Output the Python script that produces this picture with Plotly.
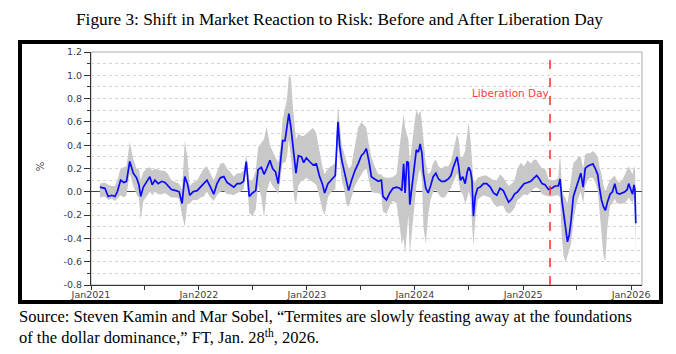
import plotly.graph_objects as go

dates = [
"2021-01-31","2021-02-17","2021-02-28","2021-03-12","2021-03-23","2021-03-31","2021-04-11","2021-04-22",
"2021-05-01","2021-05-12","2021-05-24","2021-06-04","2021-06-12","2021-06-18","2021-06-27","2021-07-08",
"2021-07-19","2021-07-27","2021-08-05","2021-08-16","2021-08-28","2021-09-08","2021-09-19","2021-09-30",
"2021-10-15","2021-10-26","2021-11-05","2021-11-14","2021-11-23","2021-12-01","2021-12-12","2021-12-26",
"2022-01-06","2022-01-17","2022-01-28","2022-02-09","2022-02-20","2022-03-03","2022-03-14","2022-03-26",
"2022-04-06","2022-04-17","2022-04-29","2022-05-10","2022-05-21","2022-06-01","2022-06-10","2022-06-20",
"2022-07-01","2022-07-12","2022-07-20","2022-07-31","2022-08-09","2022-08-18","2022-08-29","2022-09-07",
"2022-09-17","2022-09-26","2022-10-04","2022-10-11","2022-10-19","2022-10-26","2022-11-01","2022-11-08",
"2022-11-14","2022-11-19","2022-11-25","2022-12-03","2022-12-14","2022-12-21","2022-12-30","2023-01-10",
"2023-01-22","2023-02-02","2023-02-13","2023-02-22","2023-03-02","2023-03-13","2023-03-24","2023-04-07",
"2023-04-16","2023-04-22","2023-04-29","2023-05-07","2023-05-14","2023-05-22","2023-05-31","2023-06-12",
"2023-06-23","2023-07-04","2023-07-12","2023-07-21","2023-07-30","2023-08-07","2023-08-18","2023-08-30",
"2023-09-10","2023-09-15","2023-09-27","2023-10-08","2023-10-19","2023-10-31","2023-11-11","2023-11-18",
"2023-11-24","2023-11-29","2023-12-05","2023-12-10","2023-12-15","2023-12-23","2023-12-31","2024-01-06",
"2024-01-13","2024-01-19","2024-01-25","2024-01-30","2024-02-07","2024-02-15","2024-02-23","2024-03-03",
"2024-03-12","2024-03-21","2024-03-31","2024-04-11","2024-04-23","2024-05-02","2024-05-10","2024-05-17",
"2024-05-23","2024-05-28","2024-06-03","2024-06-11","2024-06-19","2024-06-26","2024-07-01","2024-07-07",
"2024-07-12","2024-07-17","2024-07-23","2024-07-31","2024-08-09","2024-08-20","2024-08-31","2024-09-12",
"2024-09-23","2024-10-04","2024-10-15","2024-10-26","2024-11-04","2024-11-13","2024-11-24","2024-12-03",
"2024-12-13","2024-12-24","2025-01-04","2025-01-16","2025-01-27","2025-02-07","2025-02-16","2025-02-25",
"2025-03-06","2025-03-16","2025-03-28","2025-04-08","2025-04-19","2025-04-30","2025-05-06","2025-05-12",
"2025-05-18","2025-05-25","2025-05-31","2025-06-06","2025-06-12","2025-06-20","2025-06-29","2025-07-07",
"2025-07-15","2025-07-23","2025-07-30","2025-08-07","2025-08-16","2025-08-25","2025-09-02","2025-09-10",
"2025-09-16","2025-09-23","2025-09-30","2025-10-06","2025-10-13","2025-10-22","2025-10-30","2025-11-07",
"2025-11-14","2025-11-23","2025-12-02","2025-12-11","2025-12-19","2025-12-24","2025-12-31","2026-01-06",
"2026-01-11","2026-01-14","2026-01-17"]

mid = [
0.04,0.03,-0.04,-0.03,-0.04,0.0,0.10,0.08,
0.09,0.26,0.16,0.12,0.06,-0.04,0.04,0.08,
0.13,0.06,0.10,0.07,0.09,0.08,0.05,0.02,
0.01,0.0,-0.10,0.13,0.07,-0.03,0.0,0.01,
0.04,0.07,0.10,0.04,-0.02,0.07,0.12,0.13,
0.08,0.06,0.04,0.07,0.07,0.09,0.26,-0.04,
-0.01,0.01,0.19,0.21,0.15,0.20,0.27,0.20,
0.17,0.07,0.26,0.44,0.44,0.56,0.67,0.55,
0.39,0.27,0.16,0.31,0.30,0.25,0.29,0.26,
0.23,0.24,0.13,0.07,-0.01,0.07,0.10,0.14,
0.60,0.39,0.27,0.17,0.10,0.01,0.09,0.18,
0.24,0.31,0.33,0.37,0.26,0.13,0.11,0.09,
0.10,-0.04,-0.07,-0.01,0.03,0.04,0.03,0.01,
0.24,-0.01,0.26,0.25,-0.11,0.07,0.27,0.36,
0.34,0.41,0.33,0.16,0.03,-0.01,0.05,0.13,
0.16,0.11,0.09,0.09,0.11,0.14,0.21,0.25,
0.30,0.22,0.10,0.13,0.07,0.17,0.21,0.18,
0.10,-0.21,-0.04,0.03,0.04,0.07,0.07,0.04,
-0.01,-0.03,0.03,0.01,-0.04,-0.09,-0.06,-0.02,
0.0,0.04,0.07,0.08,0.09,0.12,0.14,0.11,
0.07,0.06,0.02,0.03,0.05,0.05,0.11,-0.07,
-0.20,-0.35,-0.43,-0.37,-0.25,-0.04,0.04,0.10,
0.16,0.04,0.20,0.22,0.23,0.24,0.20,0.15,
0.04,-0.07,-0.13,-0.16,-0.09,-0.02,0.0,0.07,
-0.01,-0.02,-0.01,0.0,0.02,0.07,0.02,-0.02,
0.06,0.02,-0.27]

upper = [
0.07,0.08,0.06,0.05,0.05,0.10,0.20,0.21,
0.22,0.43,0.28,0.20,0.20,0.10,0.17,0.20,
0.21,0.18,0.20,0.19,0.18,0.18,0.15,0.10,
0.08,0.07,0.02,0.44,0.30,0.05,0.08,0.10,
0.15,0.20,0.22,0.15,0.10,0.17,0.24,0.25,
0.20,0.17,0.13,0.16,0.16,0.18,0.32,0.10,
0.10,0.18,0.38,0.42,0.45,0.56,0.40,0.35,
0.30,0.25,0.40,0.62,0.72,0.80,1.00,0.98,
0.75,0.60,0.45,0.50,0.48,0.48,0.50,0.52,
0.55,0.50,0.35,0.22,0.15,0.20,0.22,0.25,
0.74,0.60,0.40,0.33,0.26,0.20,0.22,0.40,
0.55,0.60,0.58,0.55,0.40,0.30,0.22,0.15,
0.15,0.13,0.12,0.12,0.13,0.15,0.40,0.55,
0.67,0.55,0.50,0.45,0.25,0.45,0.60,0.70,
0.66,0.70,0.60,0.45,0.25,0.15,0.17,0.25,
0.28,0.22,0.20,0.22,0.22,0.26,0.35,0.42,
0.50,0.45,0.30,0.30,0.35,0.50,0.60,0.45,
0.30,0.10,0.08,0.12,0.13,0.14,0.14,0.12,
0.10,0.10,0.15,0.12,0.08,0.05,0.07,0.10,
0.20,0.25,0.22,0.27,0.24,0.28,0.27,0.24,
0.20,0.20,0.11,0.10,0.10,0.12,0.33,0.05,
-0.03,-0.06,-0.10,0.0,0.10,0.25,0.27,0.30,
0.30,0.20,0.32,0.33,0.33,0.35,0.33,0.30,
0.22,0.15,0.05,0.0,0.05,0.10,0.12,0.14,
0.10,0.08,0.10,0.15,0.20,0.22,0.18,0.15,
0.22,0.20,-0.05]

lower = [
-0.05,-0.04,-0.07,-0.06,-0.08,-0.06,-0.03,-0.05,
-0.03,0.16,0.05,-0.02,-0.05,-0.24,-0.08,-0.04,
0.0,-0.03,0.0,-0.02,-0.02,-0.01,-0.03,-0.05,
-0.05,-0.06,-0.20,-0.30,-0.10,-0.10,-0.07,-0.07,
-0.05,-0.04,0.0,-0.05,-0.08,-0.03,0.0,0.01,
-0.02,-0.02,-0.03,-0.01,0.0,0.02,0.20,-0.18,
-0.21,-0.15,0.05,-0.05,-0.22,0.0,0.10,0.05,
0.02,-0.02,0.12,0.25,0.25,0.30,0.45,0.30,
0.10,-0.05,-0.11,0.05,0.10,0.10,0.12,0.10,
0.08,0.06,-0.05,-0.15,-0.20,-0.05,0.0,0.02,
0.42,0.25,0.10,0.02,-0.10,-0.13,-0.05,0.05,
0.10,0.15,0.18,0.20,0.10,0.0,-0.01,-0.01,
-0.03,-0.17,-0.19,-0.12,-0.08,-0.10,-0.30,-0.45,
-0.40,-0.53,-0.35,-0.20,-0.53,-0.30,-0.10,0.05,
0.15,0.20,0.10,-0.30,-0.45,-0.20,-0.07,0.0,
0.02,-0.02,-0.05,-0.05,0.0,0.03,0.08,0.12,
0.16,0.10,0.0,-0.02,-0.10,-0.05,0.0,-0.05,
-0.25,-0.47,-0.25,-0.07,-0.05,-0.03,-0.04,-0.05,
-0.10,-0.13,-0.12,-0.12,-0.17,-0.19,-0.17,-0.14,
-0.07,-0.05,-0.02,-0.03,0.0,0.03,0.04,0.02,
-0.02,-0.03,-0.04,-0.04,-0.03,-0.03,-0.05,-0.40,
-0.55,-0.60,-0.55,-0.52,-0.45,-0.25,-0.12,-0.05,
0.0,-0.10,0.05,0.10,0.12,0.12,0.08,0.02,
-0.15,-0.40,-0.55,-0.60,-0.30,-0.12,-0.10,-0.06,
-0.10,-0.10,-0.10,-0.10,-0.07,-0.05,-0.08,-0.10,
-0.05,-0.20,-0.50]

year_ticks = ["2021-01-01","2022-01-01","2023-01-01","2024-01-01","2025-01-01","2026-01-01"]
year_labels = ["Jan2021","Jan2022","Jan2023","Jan2024","Jan2025","Jan2026"]
y_ticks = [1.2,1.0,0.8,0.6,0.4,0.2,0.0,-0.2,-0.4,-0.6,-0.8]
y_labels = ["1.2","1.0","0.8","0.6","0.4","0.2","0.0","-0.2","-0.4","-0.6","-0.8"]
lib_day = "2025-04-02"

title_text = "Figure 3: Shift in Market Reaction to Risk: Before and After Liberation Day"
source_text = ("Source: Steven Kamin and Mar Sobel, \u201cTermites are slowly feasting away at the foundations<br>"
               "of the dollar dominance,\u201d FT, Jan. 28<sup>th</sup>, 2026.")

fig = go.Figure()
fig.add_trace(go.Scatter(x=dates, y=upper, mode="lines", line=dict(width=0, color="#c8c8c8"),
                         showlegend=False, hoverinfo="skip"))
fig.add_trace(go.Scatter(x=dates, y=lower, mode="lines", line=dict(width=0, color="#c8c8c8"),
                         fill="tonexty", fillcolor="#c8c8c8", showlegend=False, hoverinfo="skip"))
fig.add_trace(go.Scatter(x=dates, y=mid, mode="lines", line=dict(width=1.7, color="#0a0aff"),
                         showlegend=False))

W, H = 676, 354
L, R, T, B = 91, 34, 52, 69
pw, ph = W - L - R, H - T - B
def px(x): return (x - L) / pw
def py(y): return (H - B - y) / ph

tickfont = dict(family="DejaVu Sans, Arial", size=9.5, color="#404040")

fig.update_layout(
    width=W, height=H, margin=dict(l=L, r=R, t=T, b=B),
    paper_bgcolor="white", plot_bgcolor="white",
    xaxis=dict(type="date", range=["2021-01-01", "2026-02-07"],
               tickvals=year_ticks, ticktext=year_labels, tickfont=tickfont,
               showline=True, linecolor="#333", linewidth=1, ticks="outside", ticklen=4,
               tickcolor="#333", showgrid=False, zeroline=False, ticklabelstandoff=-3,
               minor=dict(dtick="M6", tick0="2021-01-01", ticks="outside", ticklen=4,
                          tickcolor="#333", showgrid=False)),
    yaxis=dict(range=[-0.8, 1.2], tickvals=y_ticks, ticktext=y_labels, tickfont=tickfont,
               showline=True, linecolor="#333", linewidth=1, ticks="outside", ticklen=6,
               tickcolor="#333", showgrid=True, gridcolor="#d2d2d2", griddash="dot", gridwidth=1,
               zeroline=True, zerolinecolor="#444", zerolinewidth=1,
               minor=dict(dtick=0.1, tick0=0, ticks="outside", ticklen=3, tickcolor="#333",
                          showgrid=True, gridcolor="#d2d2d2", griddash="dot", gridwidth=1)),
    shapes=[
        dict(type="rect", xref="paper", yref="paper", x0=0, x1=1, y0=0, y1=1,
             line=dict(color="#aaaaaa", width=1), layer="below"),
        dict(type="line", xref="x", yref="paper", x0=lib_day, x1=lib_day, y0=0, y1=1,
             line=dict(color="#ff2a2a", width=1.5, dash="dash")),
        dict(type="rect", xref="paper", yref="paper", x0=px(20), x1=px(661), y0=py(302), y1=py(42),
             line=dict(color="black", width=4)),
    ],
    annotations=[
        dict(text=title_text, xref="paper", yref="paper", x=px(339), y=py(19),
             xanchor="center", yanchor="middle", showarrow=False,
             font=dict(family="Liberation Serif, Times New Roman", size=17.3, color="black")),
        dict(text="Liberation Day", xref="x", yref="y", x=lib_day, y=0.85, xanchor="right",
             yanchor="middle", showarrow=False, xshift=1,
             font=dict(family="DejaVu Sans, Arial", size=10.5, color="#ff3c3c")),
        dict(text="%", xref="paper", yref="y", x=px(40), y=0.22, textangle=-90,
             xanchor="center", yanchor="middle", showarrow=False,
             font=dict(family="DejaVu Sans, Arial", size=10, color="#404040")),
        dict(text=source_text, xref="paper", yref="paper", x=px(17), y=py(305),
             xanchor="left", yanchor="top", align="left", showarrow=False,
             font=dict(family="Liberation Serif, Times New Roman", size=16.5, color="black")),
    ],
)

fig.write_html("out.html")
